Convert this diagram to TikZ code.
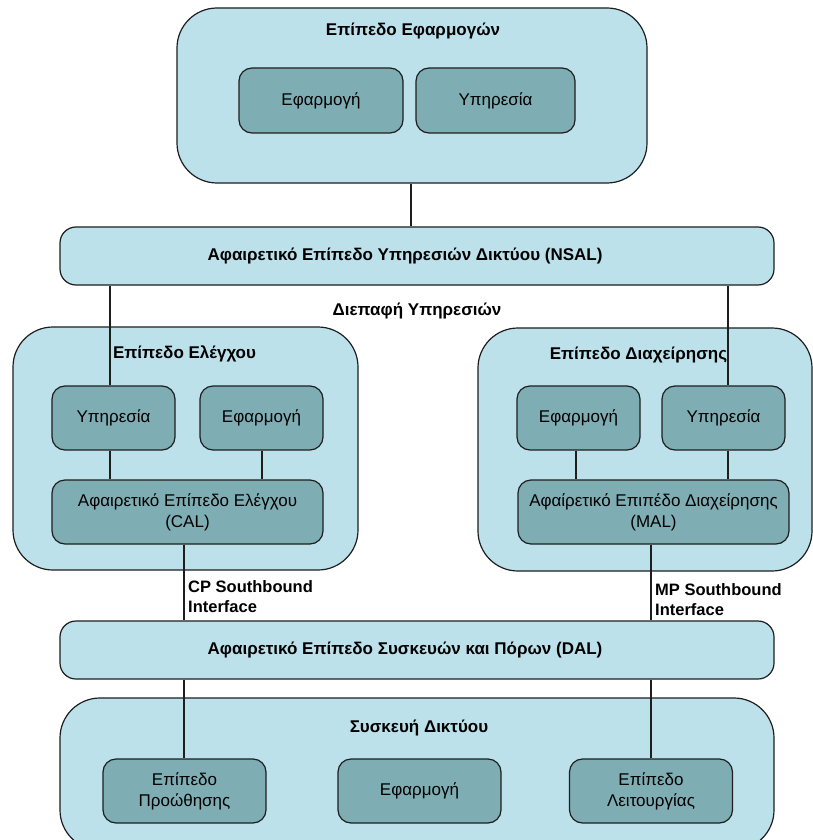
\documentclass[tikz,border=0pt]{standalone}
\usepackage{fontspec}
\setmainfont{Liberation Sans}
\definecolor{outerfill}{HTML}{BCE1EB}
\definecolor{innerfill}{HTML}{7EADB4}
\definecolor{edge}{HTML}{1E1E1E}
\begin{document}
\begin{tikzpicture}[x=1pt,y=-1pt,
  outer/.style={draw=edge,line width=1.2pt,fill=outerfill,rounded corners=40pt},
  bar/.style={draw=edge,line width=1.2pt,fill=outerfill,rounded corners=16pt},
  inner/.style={draw=edge,line width=1.2pt,fill=innerfill,rounded corners=13pt,align=center,
    font=\fontsize{17}{21}\selectfont,inner sep=0pt},
  ttl/.style={font=\fontsize{17}{20}\selectfont\bfseries,inner sep=0pt},
  lbl/.style={font=\fontsize{16.5}{20}\selectfont\bfseries,inner sep=0pt,align=left,anchor=west},
  wire/.style={draw=edge,line width=1.2pt}]
\clip (0,0) rectangle (813,840);
\useasboundingbox (0,0) rectangle (813,840);
\fill[white] (0,0) rectangle (813,840);

% containers
\node[outer,minimum width=470pt,minimum height=175pt,inner sep=0pt] (app) at (412,95.5) {};
\node[ttl] (appT) at (413,31) {Επίπεδο Εφαρμογών};
\node[inner,minimum width=164pt,minimum height=65pt] (appA) at (321,100.5) {Εφαρμογή};
\node[inner,minimum width=159pt,minimum height=65pt] (appS) at (495.5,100.5) {Υπηρεσία};

\node[bar,minimum width=714pt,minimum height=58pt,inner sep=0pt] (nsal) at (417,256) {};
\node[ttl] (nsalT) at (405,256) {Αφαιρετικό Επίπεδο Υπηρεσιών Δικτύου (NSAL)};
\node[ttl] (si) at (417,311) {Διεπαφή Υπηρεσιών};

% control plane
\node[outer,minimum width=345pt,minimum height=243pt,inner sep=0pt] (cp) at (185.5,448.5) {};
\node[ttl] (cpT) at (184.5,354) {Επίπεδο Ελέγχου};
\node[inner,minimum width=123pt,minimum height=64pt] (cpS) at (113.5,418) {Υπηρεσία};
\node[inner,minimum width=123pt,minimum height=64pt] (cpA) at (261.5,418) {Εφαρμογή};
\node[inner,minimum width=271pt,minimum height=64pt] (cal) at (187.5,512) {Αφαιρετικό Επίπεδο Ελέγχου\\(CAL)};

% management plane
\node[outer,minimum width=334pt,minimum height=243pt,inner sep=0pt] (mp) at (645,449.5) {};
\node[ttl] (mpT) at (638.5,355) {Επίπεδο Διαχείρησης};
\node[inner,minimum width=123pt,minimum height=64pt] (mpA) at (578.5,418) {Εφαρμογή};
\node[inner,minimum width=123pt,minimum height=64pt] (mpS) at (723.5,418) {Υπηρεσία};
\node[inner,minimum width=271pt,minimum height=64pt] (mal) at (653.5,512) {Αφαίρετικό Επιπέδο Διαχείρησης\\(MAL)};

% DAL
\node[bar,minimum width=714pt,minimum height=58pt,inner sep=0pt] (dal) at (417,650) {};
\node[ttl] (dalT) at (405,650) {Αφαιρετικό Επίπεδο Συσκευών και Πόρων (DAL)};

% device
\node[outer,minimum width=714pt,minimum height=152pt,inner sep=0pt] (dev) at (417,774) {};
\node[ttl] (devT) at (419,728) {Συσκευή Δικτύου};
\node[inner,minimum width=163pt,minimum height=64pt] (fwd) at (184.5,791) {Επίπεδο\\Προώθησης};
\node[inner,minimum width=163pt,minimum height=64pt] (devA) at (419.5,791) {Εφαρμογή};
\node[inner,minimum width=163pt,minimum height=64pt] (op) at (651,791) {Επίπεδο\\Λειτουργίας};

% labels
\node[lbl] (cpL) at (188,597) {CP Southbound\\Interface};
\node[lbl] (mpL) at (655,600) {MP Southbound\\Interface};

% connector x positions
\coordinate (xa) at (411,0);
\coordinate (xl) at (110,0);
\coordinate (xr) at (728,0);
\coordinate (xla) at (262,0);
\coordinate (xra) at (576,0);
\coordinate (xcp) at (184,0);
\coordinate (xmp) at (651,0);

\draw[wire] (app.south -| xa) -- (nsal.north -| xa);
\draw[wire] (nsal.south -| xl) -- (cpS.north -| xl);
\draw[wire] (nsal.south -| xr) -- (mpS.north -| xr);
\draw[wire] (cpS.south -| xl) -- (cal.north -| xl);
\draw[wire] (cpA.south -| xla) -- (cal.north -| xla);
\draw[wire] (mpA.south -| xra) -- (mal.north -| xra);
\draw[wire] (mpS.south -| xr) -- (mal.north -| xr);
\draw[wire] (cal.south -| xcp) -- (dal.north -| xcp);
\draw[wire] (mal.south -| xmp) -- (dal.north -| xmp);
\draw[wire] (dal.south -| xcp) -- (fwd.north -| xcp);
\draw[wire] (dal.south -| xmp) -- (op.north -| xmp);
\end{tikzpicture}
\end{document}
